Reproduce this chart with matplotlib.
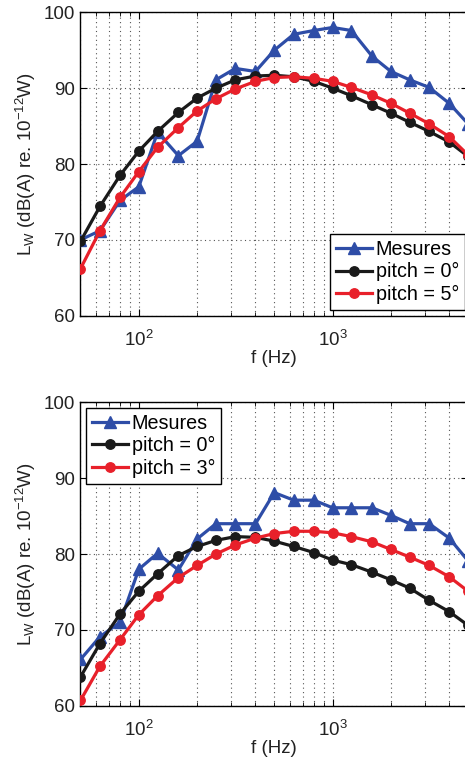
import matplotlib
matplotlib.use("Agg")
import matplotlib.pyplot as plt
from matplotlib.ticker import LogLocator

plt.rcParams['font.family'] = ['Liberation Sans', 'DejaVu Sans']
plt.rcParams['mathtext.fontset'] = 'custom'
plt.rcParams['mathtext.rm'] = 'Liberation Sans'
plt.rcParams['mathtext.it'] = 'Liberation Sans:italic'
plt.rcParams['mathtext.bf'] = 'Liberation Sans:bold'

freqs = [50, 63, 80, 100, 125, 160, 200, 250, 315, 400, 500, 630, 800,
         1000, 1250, 1600, 2000, 2500, 3150, 4000, 5000]

# Top panel
top_mesures = [70.0, 71.2, 75.2, 77.0, 84.2, 81.1, 83.0, 91.1, 92.6, 92.2, 95.0,
               97.1, 97.6, 98.0, 97.6, 94.2, 92.2, 91.1, 90.1, 88.0, 85.3]
top_pitch0 = [69.8, 74.4, 78.5, 81.7, 84.3, 86.8, 88.7, 90.0, 91.1, 91.6, 91.7,
              91.5, 90.9, 90.0, 89.0, 87.8, 86.7, 85.5, 84.3, 82.9, 81.0]
top_pitch5 = [66.2, 71.2, 75.6, 79.0, 82.2, 84.8, 87.0, 88.6, 89.9, 90.9, 91.4,
              91.5, 91.3, 90.9, 90.1, 89.1, 88.0, 86.7, 85.3, 83.6, 81.2]

# Bottom panel
bot_mesures = [66.1, 69.1, 71.0, 78.0, 80.1, 77.9, 82.0, 84.0, 84.0, 84.0, 88.1,
               87.1, 87.1, 86.1, 86.1, 86.1, 85.1, 84.0, 84.0, 82.1, 79.1]
bot_pitch0 = [63.8, 68.2, 72.1, 75.1, 77.4, 79.8, 81.0, 81.8, 82.3, 82.2, 81.7,
              81.0, 80.2, 79.2, 78.6, 77.6, 76.6, 75.5, 73.9, 72.4, 70.6]
bot_pitch3 = [60.7, 65.2, 68.7, 72.0, 74.5, 76.9, 78.5, 80.0, 81.2, 82.1, 82.7,
              83.0, 83.0, 82.8, 82.3, 81.6, 80.6, 79.6, 78.5, 77.0, 75.1]

labels_top = ['Mesures', 'pitch = 0°', 'pitch = 5°']
labels_bot = ['Mesures', 'pitch = 0°', 'pitch = 3°']

blue = '#2E4DA7'
black = '#1A1A1A'
red = '#E8202A'

fig = plt.figure(figsize=(4.65, 7.60), dpi=100)
ax1 = fig.add_axes([0.1731, 0.5846, 0.8334, 0.3992])
ax2 = fig.add_axes([0.1731, 0.0714, 0.8334, 0.3992])

ylabel = r'L$_\mathrm{W}$ (dB(A) re. 10$^{-12}$W)'

def draw(ax, mes, p0, p1, labels, loc, anchor):
    ax.plot(freqs, mes, color=blue, lw=2.3, marker='^', ms=8.5, label=labels[0], zorder=3)
    ax.plot(freqs, p0, color=black, lw=2.3, marker='o', ms=6.8, label=labels[1], zorder=4)
    ax.plot(freqs, p1, color=red, lw=2.3, marker='o', ms=6.8, label=labels[2], zorder=5)
    ax.set_xscale('log')
    ax.set_xlim(50, 5000)
    ax.set_ylim(60, 100)
    ax.set_yticks([60, 70, 80, 90, 100])
    ax.xaxis.set_major_locator(LogLocator(base=10, numticks=10))
    ax.xaxis.set_minor_locator(LogLocator(base=10, subs=range(2, 10), numticks=20))
    ax.grid(True, which='major', color='#555555', linestyle=(0, (1, 3)), lw=0.8)
    ax.grid(True, which='minor', axis='x', color='#555555', linestyle=(0, (1, 3)), lw=0.8)
    ax.tick_params(which='both', direction='in', top=True, right=True, labelsize=13.5,
                   colors='black', labelcolor='#222222')
    ax.tick_params(which='major', length=5, pad=4)
    ax.tick_params(axis='x', which='major', pad=10)
    ax.tick_params(which='minor', length=3)
    for s in ax.spines.values():
        s.set_linewidth(1.0)
        s.set_color('black')
    ax.set_xlabel('f (Hz)', fontsize=13.5, labelpad=0, color='#222222')
    ax.set_ylabel(ylabel, fontsize=13.5, labelpad=4, color='#222222')
    leg = ax.legend(loc=loc, bbox_to_anchor=anchor, fontsize=14.2, frameon=True,
                    fancybox=False, edgecolor='black', framealpha=1, handlelength=1.8,
                    handletextpad=0.2, borderpad=0.3, labelspacing=0.18, borderaxespad=0)
    leg.get_frame().set_linewidth(1.0)

draw(ax1, top_mesures, top_pitch0, top_pitch5, labels_top, 'lower right',
     (0.9916, 0.019))
draw(ax2, bot_mesures, bot_pitch0, bot_pitch3, labels_bot, 'upper left',
     (0.0155, 0.982))

fig.savefig('out.png', dpi=100)
